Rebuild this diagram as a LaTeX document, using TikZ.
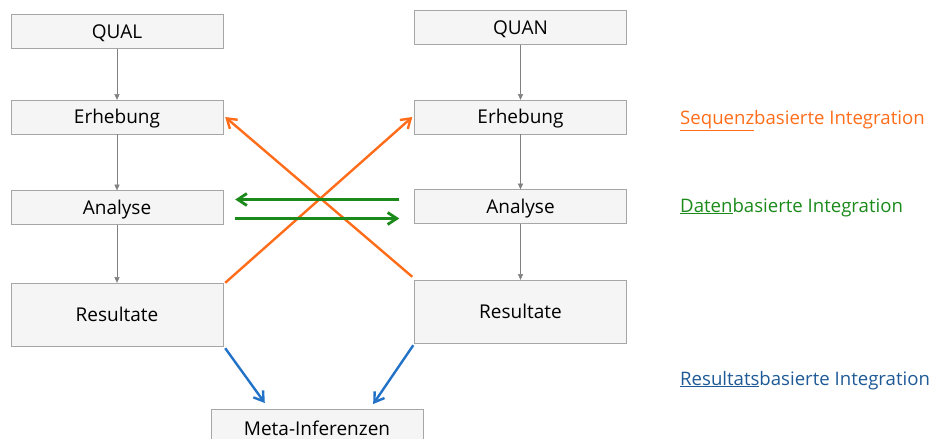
\documentclass[tikz,border=0pt]{standalone}
\usepackage{fontspec}
\setmainfont{Open Sans}
\usetikzlibrary{positioning,arrows.meta}
\definecolor{boxfill}{HTML}{F5F5F5}
\definecolor{boxline}{HTML}{A6A6A6}
\definecolor{seqorange}{HTML}{FF6D1A}
\definecolor{datgreen}{HTML}{1B8A1B}
\definecolor{resblue}{HTML}{2272C8}
\definecolor{restext}{HTML}{1F5A96}
\begin{document}
\begin{tikzpicture}[x=1pt,y=-1pt,
  phase/.style={draw=boxline,fill=boxfill,minimum width=212pt,minimum height=34pt,inner sep=0pt,text height=13.6pt,text depth=0pt,font=\fontsize{19}{22}\selectfont},
  legend/.style={anchor=base west,inner sep=0pt,font=\fontsize{18.6}{22}\selectfont},
  flow/.style={draw=gray,thin,-{Triangle[length=2mm,width=1.8mm]}},
  link/.style={line width=2.4pt,-{Straight Barb[length=3.2mm,width=4.2mm]}}]
\useasboundingbox (0,0) rectangle (948,439);
% left strand
\node[phase] (qual) at (117,31.5) {QUAL};
\node[phase] (lerh) at (117,117) {Erhebung};
\node[phase] (lana) at (117,207.5) {Analyse};
\node[phase,minimum height=63pt] (lres) at (117,314.5) {Resultate};
% right strand
\node[phase] (quan) at (520.5,27.5) {QUAN};
\node[phase] (rerh) at (520.5,117) {Erhebung};
\node[phase] (rana) at (520.5,206.5) {Analyse};
\node[phase,minimum height=63pt] (rres) at (520.5,311.5) {Resultate};
% merge
\node[phase,minimum height=38pt,anchor=north] (meta) at (317,409) {Meta-Inferenzen};
\draw[flow] (qual) -- (lerh);
\draw[flow] (lerh) -- (lana);
\draw[flow] (lana) -- (lres);
\draw[flow] (quan) -- (rerh);
\draw[flow] (rerh) -- (rana);
\draw[flow] (rana) -- (rres);
% sequence
\draw[link,seqorange] ([shift={(2,0)}]lres.north east) -- ([shift={(-2,0)}]rerh.west);
\draw[link,seqorange] ([shift={(-2,-3)}]rres.north west) -- ([shift={(2,0)}]lerh.east);
% data
\coordinate (dl) at ([shift={(12,-8)}]lana.east);
\coordinate (dr) at ([shift={(-15,-7)}]rana.west);
\draw[link,datgreen,line width=2.8pt] (dr) -- (dl);
\draw[link,datgreen,line width=2.8pt] ([shift={(0,19)}]dl) -- ([shift={(0,19)}]dr);
% results
\draw[link,resblue] ([shift={(2,2)}]lres.south east) -- ([shift={(54,-6)}]meta.north west);
\draw[link,resblue] ([shift={(-1,2)}]rres.south west) -- ([shift={(-50,-5)}]meta.north east);
% legend
\node[legend,text=seqorange] (lseq) at (680,124) {\underline{Sequenz}basierte Integration};
\node[legend,text=datgreen] (ldat) at (680,212) {\underline{Daten}basierte Integration};
\node[legend,text=restext] (lrint) at (680,385) {\underline{Resultats}basierte Integration};
\end{tikzpicture}
\end{document}
